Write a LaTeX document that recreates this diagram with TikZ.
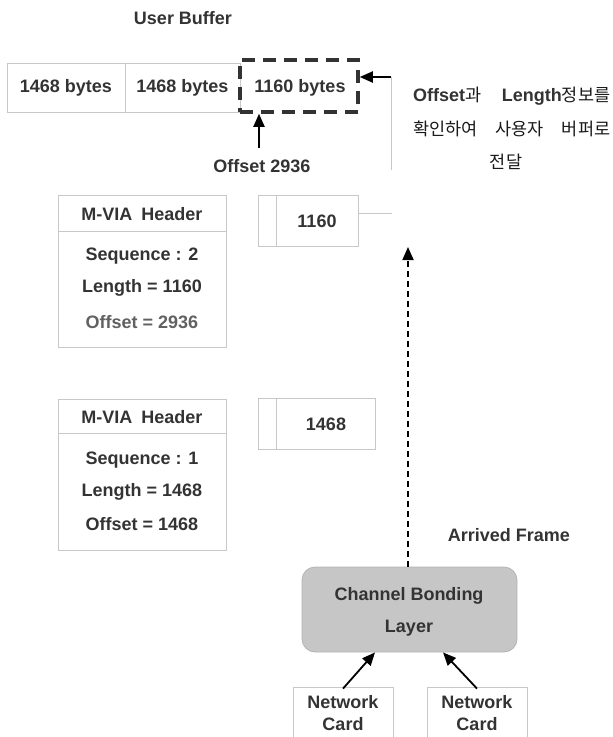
\documentclass[tikz,border=0pt]{standalone}
\usepackage{fontspec}
\setmainfont{Liberation Sans}
\newfontfamily\krfont{Noto Sans CJK KR}
\usetikzlibrary{arrows.meta,calc}
\definecolor{txt}{HTML}{333333}
\definecolor{thin}{HTML}{C8C8C8}
\definecolor{cbfill}{HTML}{C6C6C6}
\definecolor{cbline}{HTML}{B4B4B4}
\begin{document}
\begin{tikzpicture}[x=1pt,y=-1pt,
  lbl/.style={font=\fontsize{18}{21}\selectfont\bfseries, text=txt, inner sep=0pt},
  boxx/.style={draw=thin, line width=0.8pt, inner sep=0pt},
  cell/.style={boxx, lbl, minimum height=49pt},
  arr/.style={-{Triangle[length=13pt,width=11pt]}, line width=1.8pt, black},
  darr/.style={-{Triangle[length=13pt,width=11pt]}, line width=1.8pt, black, dash pattern=on 6pt off 4pt},
  thinline/.style={draw=thin, line width=0.8pt},
  kr/.style={font=\krfont\fontsize{17.5}{20}\selectfont, text=black!90, inner sep=0pt},
]
\useasboundingbox (0,0) rectangle (613,737);
\clip (0,0) rectangle (613,737);

% user buffer
\node[lbl] (ub) at (183,18) {User Buffer};
\node[cell, minimum width=118pt] (c1) at (66,87.5) {1468 bytes};
\node[cell, minimum width=115pt] (c2) at (182.5,87.5) {1468 bytes};
\node[lbl, draw=txt, line width=3.5pt, dash pattern=on 13pt off 8pt,
      minimum width=118pt, minimum height=52pt] (d) at (299,86) {};
\node[lbl] (dt) at (300,88) {1160 bytes};

% offset arrow
\coordinate (oa) at (259,148);
\draw[arr] (oa) -- (oa |- d.south);
\node[lbl] (offt) at (262,166) {Offset 2936};

% arrow into dashed box and grey line
\coordinate (k1) at (391,77);
\coordinate (k2) at (391,170);
\draw[thinline] (k1) -- (k2);
\draw[arr] (k1) -- (k1 -| d.east);

% Korean note
\node[kr, anchor=west] (n1) at (413,96) {\makebox[197pt][s]{{\rmfamily\fontsize{18}{20}\selectfont\bfseries\color{txt}Offset}과 {\rmfamily\fontsize{18}{20}\selectfont\bfseries\color{txt}Length}정보를}};
\node[kr, anchor=west] (n2) at (413,129) {\makebox[197pt][s]{확인하여 사용자 버퍼로}};
\node[kr] (n3) at (506,162) {전달};

% header 2
\node[boxx, minimum width=168pt, minimum height=152pt] (h2) at (142,271) {};
\draw[thinline] (h2.west |- 0,231) -- (h2.east |- 0,231);
\node[lbl] (h2a) at (142,214) {M-VIA\hspace{9pt}Header};
\node[lbl] (h2b) at (142,256) {Sequence : 2};
\node[lbl] (h2c) at (142,288) {Length = 1160};
\node[lbl, text=black!62] (h2d) at (142,322) {Offset = 2936};

% payload 2
\node[boxx, minimum width=100pt, minimum height=51pt] (p2) at (308,220.5) {};
\draw[thinline] (p2.north west -| 276,0) -- (p2.south west -| 276,0);
\node[lbl] (p2t) at (317,221) {1160};
\coordinate (p2e) at (392,213);
\draw[thinline] (p2e -| p2.east) -- (p2e);

% header 1
\node[boxx, minimum width=168pt, minimum height=151pt] (h1) at (142,474.5) {};
\draw[thinline] (h1.west |- 0,433) -- (h1.east |- 0,433);
\node[lbl] (h1a) at (142,417) {M-VIA\hspace{9pt}Header};
\node[lbl] (h1b) at (142,460) {Sequence : 1};
\node[lbl] (h1c) at (142,492) {Length = 1468};
\node[lbl] (h1d) at (142,524) {Offset = 1468};

% payload 1
\node[boxx, minimum width=117pt, minimum height=51pt] (p1) at (316.5,423.5) {};
\draw[thinline] (p1.north west -| 276,0) -- (p1.south west -| 276,0);
\node[lbl] (p1t) at (326,424) {1468};

% arrived frame
\node[lbl] (af) at (509,535) {Arrived Frame};

% channel bonding
\node[draw=cbline, line width=0.8pt, fill=cbfill, rounded corners=13pt,
      minimum width=215pt, minimum height=85pt] (cb) at (409.5,609.5) {};
\node[lbl, align=center, font=\fontsize{18}{32}\selectfont\bfseries] (cbt) at (409,612) {Channel Bonding\\Layer};

\coordinate (dtop) at (408,247);
\draw[darr] ([xshift=-1.5pt]cb.north) -- (dtop);

% network cards
\node[boxx, lbl, align=center, font=\fontsize{18}{22}\selectfont\bfseries,
      minimum width=100pt, minimum height=52pt] (nc1) at (343,713) {Network\\Card};
\node[boxx, lbl, align=center, font=\fontsize{18}{22}\selectfont\bfseries,
      minimum width=100pt, minimum height=52pt] (nc2) at (477,713) {Network\\Card};
\draw[arr] ([yshift=-2pt]nc1.north) -- ([xshift=-34.5pt]cb.south);
\draw[arr] ([yshift=-2pt]nc2.north) -- ([xshift=33.5pt]cb.south);
\end{tikzpicture}
\end{document}
